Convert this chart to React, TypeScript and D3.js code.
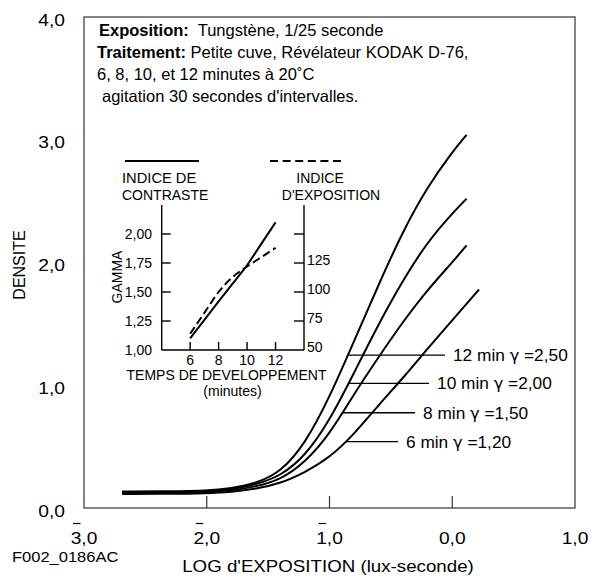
import React from "react";
import * as d3 from "d3";

// ---------- Main chart data ----------
const logE = [-2.69, -2.3, -2.0, -1.8, -1.6, -1.4, -1.2, -1.0, -0.8, -0.6, -0.4, -0.2, 0.0, 0.117];
const logE6 = [-2.69, -2.3, -2.0, -1.8, -1.6, -1.4, -1.2, -1.0, -0.8, -0.6, -0.4, -0.2, 0.0, 0.218];
const dens12 = [0.135, 0.135, 0.14, 0.16, 0.2, 0.29, 0.52, 0.9, 1.36, 1.82, 2.26, 2.62, 2.9, 3.04];
const dens10 = [0.13, 0.13, 0.135, 0.15, 0.19, 0.26, 0.42, 0.71, 1.1, 1.5, 1.86, 2.17, 2.4, 2.52];
const dens8 = [0.125, 0.125, 0.13, 0.14, 0.175, 0.23, 0.37, 0.6, 0.93, 1.23, 1.52, 1.78, 2.0, 2.14];
const dens6 = [0.115, 0.115, 0.12, 0.13, 0.155, 0.2, 0.29, 0.41, 0.6, 0.84, 1.06, 1.3, 1.53, 1.78];

const curveMinutes = ["12 min", "10 min", "8 min", "6 min"];
const curveGamma = ["=2,50", "=2,00", "=1,50", "=1,20"];
const leaderDensity = [1.246, 1.016, 0.776, 0.54];
const leaderEndLogE = [-0.059, -0.189, -0.303, -0.442];

const xTicks = [-3, -2, -1, 0, 1];
const xTickLabels = ["3,0", "2,0", "1,0", "0,0", "1,0"];
const xTickBar = [true, true, true, false, false];
const yTicks = [0, 1, 2, 3, 4];
const yTickLabels = ["0,0", "1,0", "2,0", "3,0", "4,0"];

const infoBold = ["Exposition:", "Traitement:", "", ""];
const infoText = [
  "  Tungstène, 1/25 seconde",
  " Petite cuve, Révélateur KODAK D-76,",
  "6, 8, 10, et 12 minutes à 20˚C",
  "agitation 30 secondes d'intervalles.",
];

// ---------- Inset data ----------
const devTime = [6, 8, 10, 12];
const gammaVals = [1.1, 1.42, 1.73, 2.1];
const devTimeExp = [6, 7, 8, 9, 10, 11, 12];
const expIndex = [64, 82, 100, 113, 122, 130, 138];
const gammaTicks = [1, 1.25, 1.5, 1.75, 2];
const gammaTickLabels = ["1,00", "1,25", "1,50", "1,75", "2,00"];
const expTicks = [50, 75, 100, 125, 150];
const expTickLabels = ["50", "75", "100", "125", ""];
const timeTicks = [6, 8, 10, 12];

const FONT = "'Liberation Sans', Arial, Helvetica, sans-serif";

function T({ x, y, size, sx = 1, anchor = "start", weight = "normal", rotate = 0, children }: any) {
  const tr = `translate(${x},${y})${rotate ? ` rotate(${rotate})` : ""} scale(${sx},1)`;
  return (
    <text transform={tr} fontSize={size} textAnchor={anchor} fontWeight={weight} fontFamily={FONT} fill="#000">
      {children}
    </text>
  );
}

function crossX(xs: number[], ys: number[], d: number) {
  for (let i = 0; i < ys.length - 1; i++) {
    if ((ys[i] - d) * (ys[i + 1] - d) <= 0 && ys[i] !== ys[i + 1]) {
      return xs[i] + ((d - ys[i]) / (ys[i + 1] - ys[i])) * (xs[i + 1] - xs[i]);
    }
  }
  return xs[0];
}

export default function App() {
  const W = 592, H = 578;
  const x = d3.scaleLinear().domain([-3, 1]).range([84, 575]);
  const y = d3.scaleLinear().domain([0, 4]).range([508, 17]);

  const curves = [
    { xs: logE, ys: dens12 },
    { xs: logE, ys: dens10 },
    { xs: logE, ys: dens8 },
    { xs: logE6, ys: dens6 },
  ];
  const line = d3.line<[number, number]>().x(d => x(d[0])).y(d => y(d[1])).curve(d3.curveBasis);

  // Inset scales
  const xi = d3.scaleLinear().domain([4, 14]).range([161.7, 304]);
  const yl = d3.scaleLinear().domain([1, 2.25]).range([350, 205]);
  const yr = d3.scaleLinear().domain([50, 175]).range([350, 205]);
  const lineG = d3.line<number>().x((_, i) => xi(devTime[i])).y(d => yl(d)).curve(d3.curveLinear);
  const lineE = d3.line<number>().x((_, i) => xi(devTimeExp[i])).y(d => yr(d)).curve(d3.curveMonotoneX);

  const infoX = [99, 97, 97, 102];

  return (
    <svg width={W} height={H} style={{ position: "absolute", left: 0, top: 0, background: "#fff" }}>
      <rect x={0} y={0} width={W} height={H} fill="#fff" />
      {/* frame */}
      <rect x={x(-3)} y={y(4)} width={x(1) - x(-3)} height={y(0) - y(4)} fill="none" stroke="#333" strokeWidth={1.2} />
      {/* bottom ticks */}
      {xTicks.slice(1, -1).map(v => (
        <line key={v} x1={x(v)} x2={x(v)} y1={y(0)} y2={y(0) - 12} stroke="#333" strokeWidth={1.2} />
      ))}
      {/* x tick labels */}
      {xTicks.map((v, i) => (
        <g key={"xl" + i}>
          <T x={x(v)} y={543.5} size={16} sx={1.2} anchor="middle">{xTickLabels[i]}</T>
          {xTickBar[i] && <line x1={x(v) - 11} x2={x(v) - 3.5} y1={523.5} y2={523.5} stroke="#000" strokeWidth={1.2} />}
        </g>
      ))}
      {/* y tick labels */}
      {yTicks.map((v, i) => (
        <T key={"yl" + i} x={65} y={y(v) + 8.5} size={16} sx={1.2} anchor="end">{yTickLabels[i]}</T>
      ))}
      <T x={25} y={265} size={16} rotate={-90} anchor="middle">DENSITE</T>
      <T x={328} y={572} size={16} sx={1.17} anchor="middle">LOG d'EXPOSITION (lux-seconde)</T>
      <T x={12} y={562} size={15} sx={1.1}>F002_0186AC</T>

      {/* info text */}
      {infoText.map((t, i) => (
        <text key={"info" + i} x={infoX[i]} y={36 + i * 22} fontSize={16.5} fontFamily={FONT} fill="#000" xmlSpace="preserve">
          {infoBold[i] && <tspan fontWeight="bold">{infoBold[i]}</tspan>}
          <tspan>{t}</tspan>
        </text>
      ))}

      {/* curves */}
      {curves.map((c, i) => (
        <path key={"c" + i} d={line(c.xs.map((v, j) => [v, c.ys[j]]) as any) || ""} fill="none" stroke="#000" strokeWidth={2} />
      ))}
      {/* leaders and labels */}
      {curves.map((c, i) => {
        const d = leaderDensity[i];
        const x0 = crossX(c.xs, c.ys, d);
        const x1 = leaderEndLogE[i];
        return (
          <g key={"ld" + i}>
            <line x1={x(x0)} x2={x(x1)} y1={y(d)} y2={y(d)} stroke="#000" strokeWidth={1.3} />
            <text transform={`translate(${x(x1) + 8},${y(d) + 6}) scale(1.08,1)`} fontSize={16} fontFamily={FONT} fill="#000" xmlSpace="preserve">
              <tspan>{curveMinutes[i] + " "}</tspan>
              <tspan fontFamily="'DejaVu Sans', sans-serif" fontSize={15}>γ</tspan>
              <tspan>{" " + curveGamma[i]}</tspan>
            </text>
          </g>
        );
      })}

      {/* ---------- Inset ---------- */}
      <line x1={xi(4)} x2={xi(4)} y1={yl(2.25)} y2={yl(1)} stroke="#000" strokeWidth={1.4} />
      <line x1={xi(14)} x2={xi(14)} y1={yr(175)} y2={yr(50)} stroke="#000" strokeWidth={1.4} />
      <line x1={xi(4)} x2={xi(14)} y1={yl(1)} y2={yl(1)} stroke="#000" strokeWidth={1.4} />
      {gammaTicks.map((v, i) => (
        <g key={"gt" + i}>
          {i > 0 && <line x1={xi(4)} x2={xi(4) + 9} y1={yl(v)} y2={yl(v)} stroke="#000" strokeWidth={1.4} />}
          <T x={152} y={yl(v) + 5} size={14} anchor="end">{gammaTickLabels[i]}</T>
        </g>
      ))}
      {expTicks.map((v, i) => (
        <g key={"et" + i}>
          {i > 0 && <line x1={xi(14)} x2={xi(14) - 10} y1={yr(v)} y2={yr(v)} stroke="#000" strokeWidth={1.4} />}
          <T x={307} y={yr(v) + 2} size={14}>{expTickLabels[i]}</T>
        </g>
      ))}
      {timeTicks.map(v => (
        <g key={"tt" + v}>
          <line x1={xi(v)} x2={xi(v)} y1={yl(1)} y2={yl(1) - 8} stroke="#000" strokeWidth={1.4} />
          <T x={xi(v)} y={365} size={14} anchor="middle">{String(v)}</T>
        </g>
      ))}
      <T x={122} y={277} size={14} rotate={-90} anchor="middle">GAMMA</T>
      <T x={226.5} y={380} size={14} anchor="middle">TEMPS DE DEVELOPPEMENT</T>
      <T x={232.5} y={396} size={14} anchor="middle">(minutes)</T>
      <path d={lineG(gammaVals) || ""} fill="none" stroke="#000" strokeWidth={2} />
      <path d={lineE(expIndex) || ""} fill="none" stroke="#000" strokeWidth={2} strokeDasharray="8,4" />
      {/* inset legend */}
      <line x1={125} x2={199} y1={161} y2={161} stroke="#000" strokeWidth={2} />
      <T x={122} y={183} size={14} sx={1.05}>INDICE DE</T>
      <T x={122} y={200} size={14}>CONTRASTE</T>
      <line x1={270} x2={343} y1={161} y2={161} stroke="#000" strokeWidth={2} strokeDasharray="8,4.6" />
      <T x={320} y={183} size={14} anchor="middle">INDICE</T>
      <T x={331} y={200} size={14} anchor="middle">D'EXPOSITION</T>
    </svg>
  );
}
